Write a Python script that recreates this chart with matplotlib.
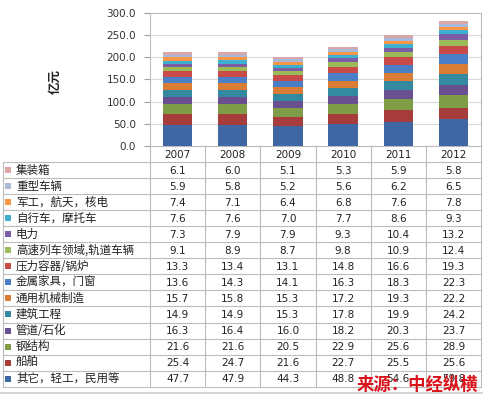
import matplotlib
matplotlib.use('Agg')
import matplotlib.pyplot as plt
from matplotlib.patches import Rectangle
import numpy as np

plt.rcParams['font.family'] = ['DejaVu Sans', 'Noto Sans CJK SC']

years = ['2007', '2008', '2009', '2010', '2011', '2012']
# series, bottom to top of the stack
names = ['其它，轻工，民用等', '船舶', '钢结构', '管道/石化', '建筑工程', '通用机械制造',
         '金属家具，门窗', '压力容器/锅炉', '高速列车领域,轨道车辆', '电力',
         '自行车，摩托车', '军工，航天，核电', '重型车辆', '集装箱']
qita = [47.7, 47.9, 44.3, 48.8, 54.6, 59.8]
chuanbo = [25.4, 24.7, 21.6, 22.7, 25.5, 25.6]
gangjiegou = [21.6, 21.6, 20.5, 22.9, 25.6, 28.9]
guandao = [16.3, 16.4, 16.0, 18.2, 20.3, 23.7]
jianzhu = [14.9, 14.9, 15.3, 17.8, 19.9, 24.2]
tongyong = [15.7, 15.8, 15.3, 17.2, 19.3, 22.2]
jinshu = [13.6, 14.3, 14.1, 16.3, 18.3, 22.3]
yali = [13.3, 13.4, 13.1, 14.8, 16.6, 19.3]
gaosu = [9.1, 8.9, 8.7, 9.8, 10.9, 12.4]
dianli = [7.3, 7.9, 7.9, 9.3, 10.4, 13.2]
zixingche = [7.6, 7.6, 7.0, 7.7, 8.6, 9.3]
jungong = [7.4, 7.1, 6.4, 6.8, 7.6, 7.8]
zhongxing = [5.9, 5.8, 5.2, 5.6, 6.2, 6.5]
jizhuangxiang = [6.1, 6.0, 5.1, 5.3, 5.9, 5.8]
values = [qita, chuanbo, gangjiegou, guandao, jianzhu, tongyong, jinshu, yali,
          gaosu, dianli, zixingche, jungong, zhongxing, jizhuangxiang]
colors = ['#3F67A4', '#A63C3B', '#7F9C46', '#6A4F90', '#3289A0', '#D97C36',
          '#4A7EC6', '#C94B49', '#9CBB58', '#7D5CA6', '#3DB0D0', '#F79646',
          '#A8BADC', '#D9A7A7']
yticks = [0, 50, 100, 150, 200, 250, 300]

W, H = 483, 398
fig = plt.figure(figsize=(W / 100, H / 100), dpi=100)

# pixel geometry
px_left, px_right = 150, 481
px_top, px_bot = 13, 146
ax = fig.add_axes([px_left / W, 1 - px_bot / H, (px_right - px_left) / W, (px_bot - px_top) / H])
x = np.arange(len(years))
bottom = np.zeros(len(years))
for vals, c in zip(values, colors):
    ax.bar(x, vals, width=0.53, bottom=bottom, color=c, edgecolor='none', zorder=3)
    bottom += np.array(vals)
ax.set_xlim(-0.5, len(years) - 0.5)
ax.set_ylim(0, 300)
ax.set_yticks(yticks)
ax.set_yticklabels([f'{v:.1f}' for v in yticks], fontsize=7.5, color='#333333')
ax.set_xticks([])
ax.yaxis.grid(True, color='#d9d9d9', linewidth=0.8, zorder=0)
for s in ax.spines.values():
    s.set_color('#bcbcbc')
    s.set_linewidth(0.8)
ax.tick_params(axis='y', length=4, color='#a0a0a0', pad=6)

fig.text(55 / W, 1 - 82 / H, '亿元', rotation=90, ha='center', va='center', fontsize=9,
         family=['Noto Sans CJK SC', 'DejaVu Sans'], color='#222222', weight='bold')

# table overlay in pixel coordinates
tab = fig.add_axes([0, 0, 1, 1], zorder=5)
tab.set_xlim(0, W)
tab.set_ylim(H, 0)
tab.axis('off')
tab.patch.set_alpha(0)

lc = '#bcbcbc'
col_w = (px_right - px_left) / len(years)
row_top = 162
row_h = 16.05
nrows = len(names)
tab_bot = row_top + nrows * row_h

# vertical lines
tab.plot([3, 3], [row_top, tab_bot], color=lc, lw=0.8)
for i in range(len(years) + 1):
    xx = px_left + i * col_w
    tab.plot([xx, xx], [px_bot, tab_bot], color=lc, lw=0.8)
# horizontal lines
for k in range(nrows + 1):
    yy = row_top + k * row_h
    tab.plot([3, px_right], [yy, yy], color=lc, lw=0.8)
tab.plot([0, W], [393, 393], color='#d0d0d0', lw=1.2)

# header
for i, yr in enumerate(years):
    tab.text(px_left + (i + 0.5) * col_w, (px_bot + row_top) / 2 + 0.5, yr, ha='center',
             va='center', fontsize=7.5, color='#222222')

# rows: top row = last series
for r in range(nrows):
    si = nrows - 1 - r
    yc = row_top + (r + 0.5) * row_h
    tab.add_patch(Rectangle((5, yc - 3), 6, 6, color=colors[si], lw=0))
    tab.text(16, yc, names[si], ha='left', va='center', fontsize=8.3,
             family=['Noto Sans CJK SC', 'DejaVu Sans'], color='#222222')
    for i in range(len(years)):
        tab.text(px_left + (i + 0.5) * col_w, yc + 0.5, f'{values[si][i]:.1f}', ha='center',
                 va='center', fontsize=7.5, color='#222222')

tab.text(417, 385, '来源：中经纵横', ha='center', va='center', fontsize=12.5,
         family=['Noto Sans CJK SC', 'DejaVu Sans'], color='#D9121B', weight='bold', zorder=10)

fig.savefig('out.png', dpi=100)
